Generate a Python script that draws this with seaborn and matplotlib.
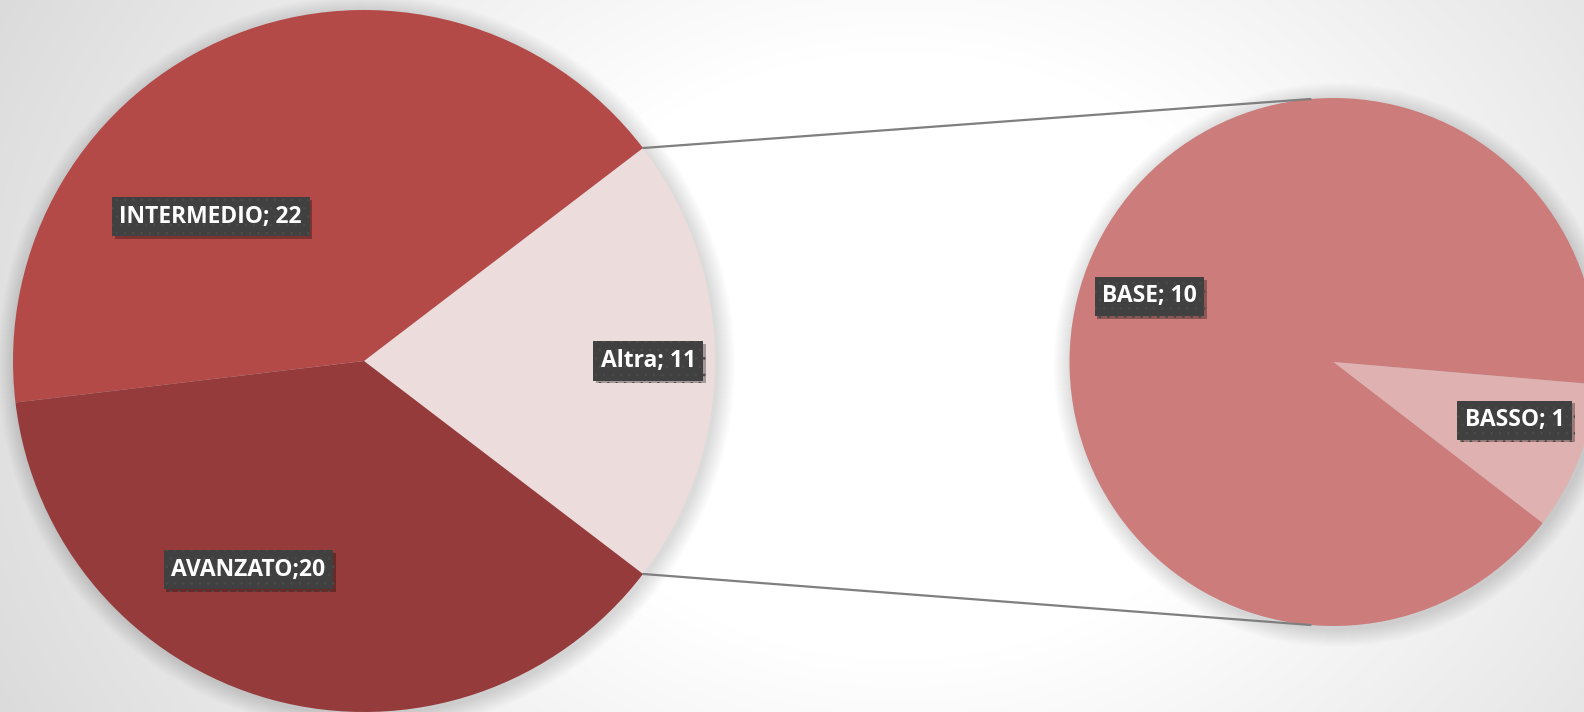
import numpy as np
import matplotlib
matplotlib.use("Agg")
import matplotlib.pyplot as plt
import matplotlib.patheffects as pe
import seaborn as sns

# data
main_labels = ["Altra", "INTERMEDIO", "AVANZATO"]
main_values = [11, 22, 20]
main_texts  = ["Altra; 11", "INTERMEDIO; 22", "AVANZATO;20"]
main_colors = ["#ECDCDC", "#B34A48", "#963B3B"]

sub_labels = ["BASSO", "BASE"]
sub_values = [1, 10]
sub_texts  = ["BASSO; 1", "BASE; 10"]
sub_colors = ["#E0B1B1", "#CB7C7B"]

# label placement (angle in deg, fraction of radius)
main_lab_pos = [(0, 0.81), (136.7, 0.60), (241, 0.68)]
sub_lab_pos  = [(-17.8, 0.72), (160.4, 0.74)]

sns.set_style("white")
plt.rcParams['font.family'] = ['Open Sans', 'DejaVu Sans']
plt.rcParams['hatch.color'] = "#4A4A4A"
plt.rcParams['hatch.linewidth'] = 0.8

W, H = 1584, 712
fig = plt.figure(figsize=(W / 100, H / 100), dpi=100)
ax = fig.add_axes([0, 0, 1, 1])

# radial gradient background
yy, xx = np.mgrid[0:H, 0:W]
d = np.hypot((xx - 900) / 1.0, (yy - 356) / 0.8)
shade = 1 - 0.14 * np.clip((d - 380) / 620, 0, 1)
ax.imshow(np.dstack([shade] * 3), extent=(0, W, 0, H), origin="lower", zorder=0, aspect="auto")

c1, r1 = (364, 351), 351
c2, r2 = (1333.5, 350), 264

# soft shadows
for c, r in [(c1, r1), (c2, r2)]:
    for k in range(18):
        ax.add_patch(plt.Circle((c[0] + 2, c[1] - 3), r + 18 - k, color="black",
                                alpha=0.007, lw=0, zorder=1))

half = 180 * main_values[0] / sum(main_values)
ax.pie(main_values, colors=main_colors, startangle=-half, counterclock=True,
       center=c1, radius=r1, frame=True, wedgeprops=dict(linewidth=0, zorder=2))
ax.pie(sub_values, colors=sub_colors, startangle=-37.6, counterclock=True,
       center=c2, radius=r2, frame=True, wedgeprops=dict(linewidth=0, zorder=2))
ax.set_xlim(0, W)
ax.set_ylim(0, H)
ax.set_aspect("auto")
ax.axis("off")

# connector lines
a1 = np.radians(half)
for s, a2 in [(1, 95), (-1, 265)]:
    p1 = (c1[0] + r1 * np.cos(a1), c1[1] + s * r1 * np.sin(a1))
    p2 = (c2[0] + r2 * np.cos(np.radians(a2)), c2[1] + r2 * np.sin(np.radians(a2)))
    ax.plot([p1[0], p2[0]], [p1[1], p2[1]], color="#7F7F7F", lw=1.6, zorder=3)


def label(center, radius, pos, txt):
    ang, fr = pos
    x = center[0] + fr * radius * np.cos(np.radians(ang))
    y = center[1] + fr * radius * np.sin(np.radians(ang))
    t = ax.text(x, y, txt, ha="center", va="center", color="white", fontsize=16.5,
                fontweight="bold", zorder=5,
                bbox=dict(boxstyle="square,pad=0.33", facecolor="#404040",
                          edgecolor="#4A4A4A", linewidth=0, hatch=".."))
    t.get_bbox_patch().set_path_effects([pe.withSimplePatchShadow(offset=(2, -2), alpha=0.3,
                                                                  shadow_rgbFace="black")])


for pos, txt in zip(main_lab_pos, main_texts):
    label(c1, r1, pos, txt)
for pos, txt in zip(sub_lab_pos, sub_texts):
    label(c2, r2, pos, txt)

fig.savefig("out.png", dpi=100)
